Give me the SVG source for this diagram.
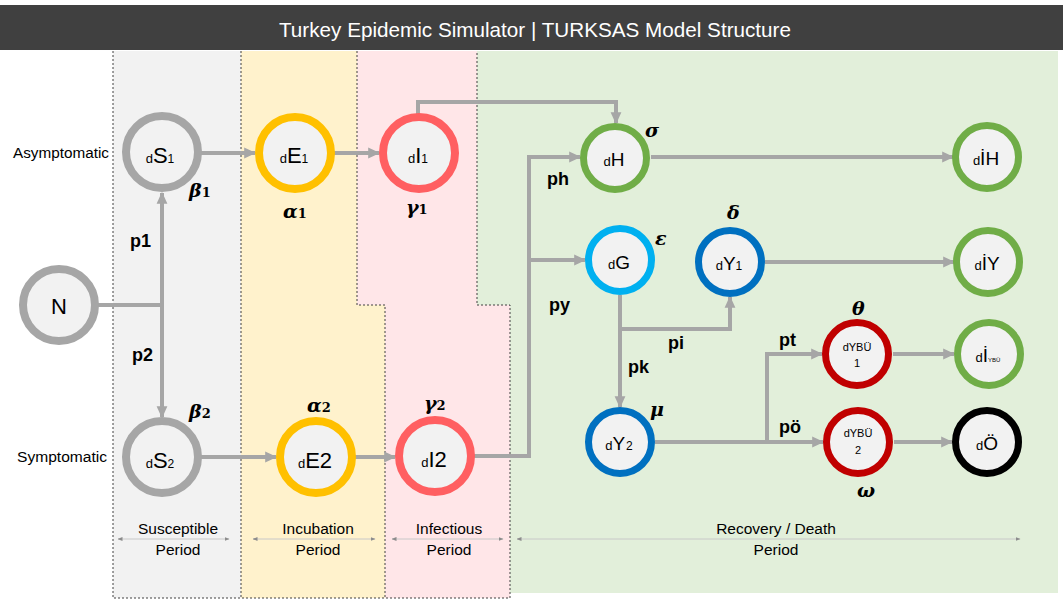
<svg xmlns="http://www.w3.org/2000/svg" width="1063" height="602" viewBox="0 0 1063 602">
<style>
.lbl{font-family:"Liberation Sans",Arial,sans-serif;fill:#000}
.side{font-size:14px}
.per{font-size:15.5px;text-anchor:middle}
.prob{font-size:18px;font-weight:bold;font-family:"Liberation Sans",Arial,sans-serif}
.gk{font-family:"DejaVu Serif","Liberation Serif",serif;font-style:italic;font-weight:bold;font-size:19px}
.gs{font-size:13px;font-style:normal}
.nt{font-family:"Liberation Sans",Arial,sans-serif;text-anchor:middle;fill:#000}
.d{font-size:13px}
.bg{font-size:22px}
.md{font-size:19px}
.sb{font-size:12px}
.tn{font-size:11px}
.n{fill:#f2f2f2}
.conn{fill:none;stroke:#a6a6a6;stroke-width:4}
.pa{stroke:#c8c8c8;stroke-width:1;fill:none}
.dash{fill:none;stroke:#404040;stroke-width:1;stroke-dasharray:2,2}
</style>
<defs>
<marker id="ah" viewBox="0 0 10 10" refX="9" refY="5" markerWidth="3" markerHeight="3" orient="auto" markerUnits="strokeWidth"><path d="M0,0.5 L10,5 L0,9.5 z" fill="#a6a6a6"/></marker>
<marker id="pa" viewBox="0 0 10 10" refX="9" refY="5" markerWidth="5" markerHeight="5" orient="auto-start-reverse" markerUnits="strokeWidth"><path d="M0,1 L10,5 L0,9 z" fill="#8c8c8c"/></marker>
</defs>
<rect width="1063" height="602" fill="#fff"/>
<g id="title">
<rect x="0" y="5" width="1063" height="45" fill="#404040"/>
<text x="535" y="37" text-anchor="middle" font-family="Liberation Sans,Arial,sans-serif" font-size="21" fill="#fff" textLength="512" lengthAdjust="spacingAndGlyphs">Turkey Epidemic Simulator | TURKSAS Model Structure</text>
</g>
<g id="regions">
<rect x="113" y="51" width="128" height="547" fill="#f2f2f2"/>
<polygon points="241,51 357,51 357,305 385,305 385,598 241,598" fill="#fff2cc"/>
<polygon points="357,51 477,51 477,305 510,305 510,598 385,598 385,305 357,305" fill="#ffe6e8"/>
<polygon points="477,51 1058,51 1058,593 510,593 510,305 477,305" fill="#e2efda"/>
<path class="dash" d="M113,51 V598 H510 V305 H477 V51 M241,51 V598 M357,51 V305 H385 V598"/>
</g>
<g id="connectors">
<path class="conn" d="M97,305 H162"/>
<path class="conn" d="M162,305 V193" marker-end="url(#ah)"/>
<path class="conn" d="M162,305 V417" marker-end="url(#ah)"/>
<path class="conn" d="M201,153 H255" marker-end="url(#ah)"/>
<path class="conn" d="M334,153 H379" marker-end="url(#ah)"/>
<path class="conn" d="M418,116 V102 H616 V123" marker-end="url(#ah)"/>
<path class="conn" d="M201,457 H276" marker-end="url(#ah)"/>
<path class="conn" d="M354,457 H395" marker-end="url(#ah)"/>
<path class="conn" d="M474,456 H529 V157 H580" marker-end="url(#ah)"/>
<path class="conn" d="M529,260 H585" marker-end="url(#ah)"/>
<path class="conn" d="M651,157 H953" marker-end="url(#ah)"/>
<path class="conn" d="M620,295 V407" marker-end="url(#ah)"/>
<path class="conn" d="M620,329 H730 V297" marker-end="url(#ah)"/>
<path class="conn" d="M765,262 H954" marker-end="url(#ah)"/>
<path class="conn" d="M655,442 H823" marker-end="url(#ah)"/>
<path class="conn" d="M767,442 V354 H822" marker-end="url(#ah)"/>
<path class="conn" d="M893,354 H954" marker-end="url(#ah)"/>
<path class="conn" d="M894,442 H952" marker-end="url(#ah)"/>
</g>
<g id="N"><circle class="n" cx="59" cy="305" r="36" stroke="#a6a6a6" stroke-width="8"/><text class="nt" x="59" y="314"><tspan class="bg">N</tspan></text></g>
<g id="S1"><circle class="n" cx="162" cy="152" r="36" stroke="#a6a6a6" stroke-width="8"/><text class="nt" x="160" y="163"><tspan class="d">d</tspan><tspan class="bg">S</tspan><tspan class="sb">1</tspan></text></g>
<g id="S2"><circle class="n" cx="162" cy="457" r="36" stroke="#a6a6a6" stroke-width="8"/><text class="nt" x="160" y="468"><tspan class="d">d</tspan><tspan class="bg">S</tspan><tspan class="sb">2</tspan></text></g>
<g id="E1"><circle class="n" cx="295" cy="153" r="36" stroke="#ffc000" stroke-width="8"/><text class="nt" x="294" y="163"><tspan class="d">d</tspan><tspan class="bg">E</tspan><tspan class="sb">1</tspan></text></g>
<g id="E2"><circle class="n" cx="316" cy="457" r="36" stroke="#ffc000" stroke-width="8"/><text class="nt" x="315" y="468"><tspan class="d">d</tspan><tspan class="bg">E2</tspan></text></g>
<g id="I1"><circle class="n" cx="419" cy="153" r="36" stroke="#ff5f61" stroke-width="8"/><text class="nt" x="418" y="163"><tspan class="d">d</tspan><tspan class="bg">I</tspan><tspan class="sb">1</tspan></text></g>
<g id="I2"><circle class="n" cx="435" cy="456" r="36" stroke="#ff5f61" stroke-width="8"/><text class="nt" x="434" y="467"><tspan class="d">d</tspan><tspan class="bg">I2</tspan></text></g>
<g id="H"><circle class="n" cx="615" cy="158" r="31.5" stroke="#70ad47" stroke-width="7"/><text class="nt" x="614" y="166"><tspan class="d">d</tspan><tspan class="md">H</tspan></text></g>
<g id="G"><circle class="n" cx="620" cy="260" r="31.5" stroke="#00b0f0" stroke-width="7"/><text class="nt" x="619" y="269"><tspan class="d">d</tspan><tspan class="md">G</tspan></text></g>
<g id="Y1"><circle class="n" cx="730" cy="262" r="31.5" stroke="#0070c0" stroke-width="7"/><text class="nt" x="729" y="270"><tspan class="d">d</tspan><tspan class="md">Y</tspan><tspan class="sb">1</tspan></text></g>
<g id="Y2"><circle class="n" cx="620" cy="442" r="31.5" stroke="#0070c0" stroke-width="7"/><text class="nt" x="619" y="450"><tspan class="d">d</tspan><tspan class="md">Y</tspan><tspan class="sb" dx="1">2</tspan></text></g>
<g id="IH"><circle class="n" cx="987" cy="157" r="31.5" stroke="#70ad47" stroke-width="7"/><text class="nt" x="986" y="165"><tspan class="d">d</tspan><tspan class="md">İH</tspan></text></g>
<g id="IY"><circle class="n" cx="988" cy="262" r="31.5" stroke="#70ad47" stroke-width="7"/><text class="nt" x="987" y="270"><tspan class="d">d</tspan><tspan class="md">İY</tspan></text></g>
<g id="YBU1"><circle class="n" cx="857" cy="354" r="31.5" stroke="#c00000" stroke-width="7"/><text class="nt tn" x="857" y="351">dYBÜ</text><text class="nt tn" x="857" y="367">1</text></g>
<g id="IYBU"><circle class="n" cx="989" cy="354" r="31.5" stroke="#70ad47" stroke-width="7"/><text class="nt" x="988" y="362"><tspan class="d">d</tspan><tspan class="md">İ</tspan><tspan font-size="6">YBÜ</tspan></text></g>
<g id="YBU2"><circle class="n" cx="858" cy="442" r="31.5" stroke="#c00000" stroke-width="7"/><text class="nt tn" x="858" y="437">dYBÜ</text><text class="nt tn" x="858" y="454">2</text></g>
<g id="O"><circle class="n" cx="987" cy="442" r="31.5" stroke="#000" stroke-width="7"/><text class="nt" x="987" y="450"><tspan class="d">d</tspan><tspan class="md">Ö</tspan></text></g>
<g id="labels">
<text class="lbl side" x="13" y="158" textLength="96" lengthAdjust="spacingAndGlyphs">Asymptomatic</text>
<text class="lbl side" x="17" y="462" textLength="90" lengthAdjust="spacingAndGlyphs">Symptomatic</text>
<text class="prob" x="130" y="247">p1</text>
<text class="prob" x="132" y="361">p2</text>
<text class="prob" x="547" y="185">ph</text>
<text class="prob" x="549" y="311">py</text>
<text class="prob" x="668" y="349">pi</text>
<text class="prob" x="628" y="373">pk</text>
<text class="prob" x="779" y="346">pt</text>
<text class="prob" x="779" y="433">pö</text>
<text class="gk" x="189" y="197">β<tspan class="gs">1</tspan></text>
<text class="gk" x="189" y="418">β<tspan class="gs">2</tspan></text>
<text class="gk" x="283" y="218">α<tspan class="gs">1</tspan></text>
<text class="gk" x="307" y="412">α<tspan class="gs">2</tspan></text>
<text class="gk" x="406" y="214">γ<tspan class="gs">1</tspan></text>
<text class="gk" x="424" y="410">γ<tspan class="gs">2</tspan></text>
<text class="gk" x="645" y="137">σ</text>
<text class="gk" x="655" y="245">ε</text>
<text class="gk" x="727" y="219">δ</text>
<text class="gk" x="650" y="416">μ</text>
<text class="gk" x="852" y="315">θ</text>
<text class="gk" x="857" y="497">ω</text>
</g>
<g id="periods">
<path class="pa" d="M118,539 H229" marker-start="url(#pa)" marker-end="url(#pa)"/>
<path class="pa" d="M253,539 H375" marker-start="url(#pa)" marker-end="url(#pa)"/>
<path class="pa" d="M392,539 H503" marker-start="url(#pa)" marker-end="url(#pa)"/>
<path class="pa" d="M517,539 H1020" marker-start="url(#pa)" marker-end="url(#pa)"/>
<text class="lbl per" x="178" y="534">Susceptible</text>
<text class="lbl per" x="178" y="555">Period</text>
<text class="lbl per" x="318" y="534">Incubation</text>
<text class="lbl per" x="318" y="555">Period</text>
<text class="lbl per" x="449" y="534">Infectious</text>
<text class="lbl per" x="449" y="555">Period</text>
<text class="lbl per" x="776" y="534">Recovery / Death</text>
<text class="lbl per" x="776" y="555">Period</text>
</g>
</svg>
